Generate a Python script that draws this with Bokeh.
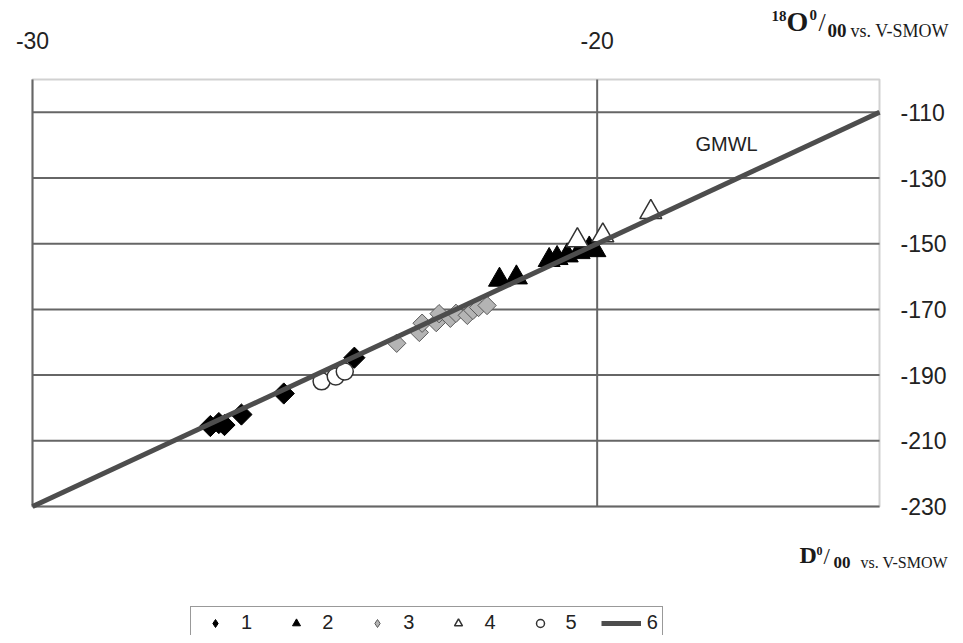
from bokeh.plotting import figure
from bokeh.models import Label, Legend, LegendItem, BoxAnnotation, Range1d
from bokeh.core.properties import value
from bokeh.embed import file_html
from bokeh.resources import INLINE
import numpy as np

# ---- data ----
s1_x = [-26.85, -26.70, -26.60, -26.30, -25.55, -24.30]
s1_y = [-205.5, -204.6, -205.2, -202.0, -195.6, -184.7]

s2_x = [-21.73, -21.43, -20.85, -20.71, -20.53, -20.32, -20.14, -20.04]
s2_y = [-161.0, -160.3, -155.0, -154.4, -153.6, -152.6, -151.5, -152.0]

s3_x = [-23.55, -23.15, -23.10, -22.85, -22.80, -22.60, -22.50, -22.30, -22.20, -22.10, -21.95]
s3_y = [-180.3, -177.0, -174.2, -174.0, -171.3, -172.7, -171.2, -171.8, -170.3, -169.4, -168.8]

s4_x = [-20.35, -19.90, -19.05]
s4_y = [-149.0, -147.5, -140.4]

s5_x = [-24.88, -24.63, -24.47]
s5_y = [-191.9, -190.4, -188.9]

gmwl_x = [-30, -15]
gmwl_y = [-230, -110]

x_ticks = [-30, -20]
y_ticks = [-230, -210, -190, -170, -150, -130, -110]
x_tick_labels = ["-30", "-20"]
y_tick_labels = ["-230", "-210", "-190", "-170", "-150", "-130", "-110"]
legend_labels = ["1", "2", "3", "4", "5", "6"]

# plotting box (data limits) and where it sits on the canvas
X0, X1 = -30, -15
Y0, Y1 = -230, -100
W, H = 955, 635
FL, FR, FT, FB = 32, 879, 79, 506

kx = (X1 - X0) / (FR - FL)
ky = (Y1 - Y0) / (FB - FT)

p = figure(width=W, height=H,
           x_range=Range1d(X0 - FL * kx, X1 + (W - FR) * kx),
           y_range=Range1d(Y0 - (H - FB) * ky, Y1 + FT * ky),
           x_axis_type=None, y_axis_type=None,
           output_backend="svg", toolbar_location=None,
           min_border=0)
p.outline_line_color = None
p.background_fill_color = "white"
p.border_fill_color = "white"

GRID = "#666666"
# grid lines at the tick values, limited to the plotting box
p.segment(x0=[X0] * len(y_ticks), x1=[X1] * len(y_ticks), y0=y_ticks, y1=y_ticks,
          line_color=GRID, line_width=2)
p.segment(x0=x_ticks, x1=x_ticks, y0=[Y0] * len(x_ticks), y1=[Y1] * len(x_ticks),
          line_color=GRID, line_width=2)
p.add_layout(BoxAnnotation(left=X0, right=X1, bottom=Y0, top=Y1, fill_alpha=0,
                           line_color=GRID, line_width=2, level="underlay"))

# tick labels (top axis and right axis)
p.text(x=x_ticks, y=[Y1] * len(x_ticks), text=x_tick_labels, y_offset=-39,
       text_align="center", text_baseline="middle",
       text_font=value("Liberation Sans"), text_font_size="23px", text_color="#222222")
p.text(x=[X1] * len(y_ticks), y=y_ticks, text=y_tick_labels, x_offset=21,
       text_align="left", text_baseline="middle",
       text_font=value("Liberation Sans"), text_font_size="23px", text_color="#222222")

# diamond glyphs used by the legend, drawn underneath the rotated squares
l1 = p.scatter(s1_x, s1_y, marker="diamond", size=14, fill_color="black", line_color="black")
l3 = p.scatter(s3_x, s3_y, marker="diamond", size=12, fill_color="#b4b4b4", line_color="#5a5a5a")

r1 = p.scatter(s1_x, s1_y, marker="square", angle=np.pi / 4, size=15,
               fill_color="black", line_color="black")
r3 = p.scatter(s3_x, s3_y, marker="square", angle=np.pi / 4, size=13,
               fill_color="#b4b4b4", line_color="#5a5a5a", line_width=1)
r5 = p.scatter(s5_x, s5_y, marker="circle", size=17,
               fill_color="white", line_color="#333333", line_width=1.5)
r2 = p.scatter(s2_x, s2_y, marker="triangle", size=22,
               fill_color="black", line_color="black")
r4 = p.scatter(s4_x, s4_y, marker="triangle", size=22,
               fill_color="white", line_color="#333333", line_width=1.5)
r6 = p.line(gmwl_x, gmwl_y, line_color="#4d4d4d", line_width=5)


def dx(px):
    return X0 + (px - FL) * kx


def dy(py):
    return Y0 + (FB - py) * ky


def lab(text, px, py, size, bold=False, font="Liberation Serif", color="#1a1a1a",
        align="left", baseline="middle"):
    p.add_layout(Label(x=dx(px), y=dy(py), text=text, text_font=font,
                       text_font_size=f"{size}px",
                       text_font_style="bold" if bold else "normal",
                       text_color=color, text_align=align, text_baseline=baseline))


lab("GMWL", 695, 143, 20, font="Liberation Sans", color="#222222")

# x-axis title (top right)
lab("18", 771, 15, 15, bold=True)
lab("O", 786, 21, 28, bold=True)
lab("0", 809, 14, 15, bold=True)
lab("/", 818, 22, 26)
lab("00", 827, 30, 19, bold=True)
lab("vs. V-SMOW", 850, 30, 18)

# y-axis title (bottom right)
lab("D", 799, 554, 24, bold=True)
lab("0", 816, 550, 12, bold=True)
lab("/", 823, 556, 23)
lab("00", 833, 562, 17, bold=True)
lab("vs. V-SMOW", 860, 562, 16)

items = [LegendItem(label=t, renderers=[r]) for t, r in zip(legend_labels, [l1, r2, l3, r4, r5, r6])]
legend = Legend(items=items, orientation="horizontal",
                location=(190, H - 639),
                glyph_width=40, glyph_height=20, label_width=0, label_height=20,
                label_standoff=6, spacing=24,
                padding=4, margin=0,
                label_text_font="Liberation Sans", label_text_font_size="20px",
                label_text_color="#222222",
                border_line_color="#333333", border_line_width=1.5,
                background_fill_color="white", background_fill_alpha=1)
p.add_layout(legend, "center")

open("out.html", "w").write(file_html(p, INLINE))
